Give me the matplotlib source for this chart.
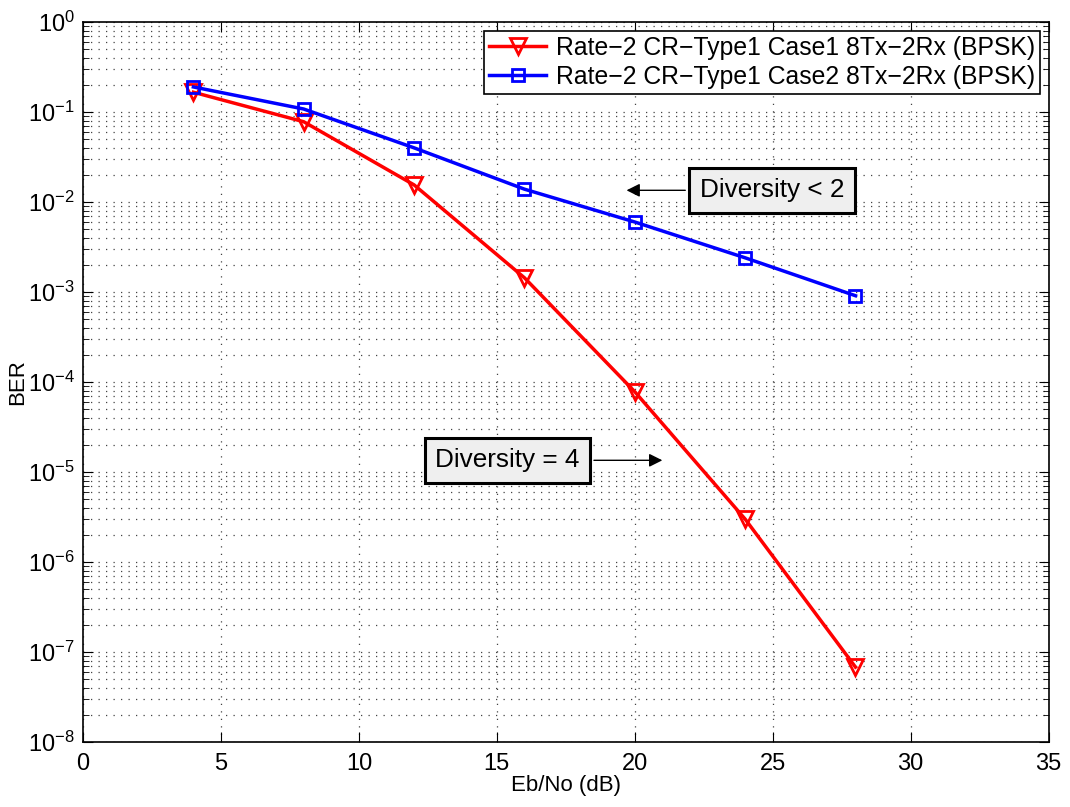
import matplotlib
matplotlib.use('Agg')
import matplotlib.pyplot as plt
from matplotlib.ticker import LogLocator, NullFormatter

plt.rcParams['font.family'] = ['Liberation Sans', 'DejaVu Sans']
plt.rcParams['mathtext.fontset'] = 'custom'
plt.rcParams['mathtext.rm'] = 'Liberation Sans'
plt.rcParams['mathtext.it'] = 'Liberation Sans'

# data
snr = [4, 8, 12, 16, 20, 24, 28]
ber_case1 = [0.166, 0.078, 0.0155, 0.00144, 7.8e-5, 3.0e-6, 6.8e-8]
ber_case2 = [0.19, 0.108, 0.040, 0.0139, 0.0060, 0.0024, 0.00091]
label_case1 = 'Rate\u22122 CR\u2212Type1 Case1 8Tx\u22122Rx (BPSK)'
label_case2 = 'Rate\u22122 CR\u2212Type1 Case2 8Tx\u22122Rx (BPSK)'

fig = plt.figure(figsize=(10.7, 8.07), dpi=100)
ax = fig.add_axes([0.0776, 0.0805, 0.9024, 0.8922])

ax.semilogy(snr, ber_case1, color='red', lw=2.5, marker='v', ms=11,
            mfc='none', mew=2, label=label_case1)
ax.semilogy(snr, ber_case2, color='blue', lw=2.5, marker='s', ms=8,
            mfc='none', mew=2, label=label_case2)

ax.set_xlim(0, 35)
ax.set_ylim(1e-8, 1)
ax.set_xticks(range(0, 36, 5))
ax.yaxis.set_major_locator(LogLocator(base=10, numticks=12))
ax.yaxis.set_minor_locator(LogLocator(base=10, subs=range(2, 10), numticks=12))
ax.yaxis.set_minor_formatter(NullFormatter())

dots = (0, (1, 5))
ax.grid(True, which='major', ls=dots, color='#444444', lw=0.9)
ax.grid(True, which='minor', axis='y', ls=dots, color='#444444', lw=0.9)
ax.tick_params(which='both', direction='in', top=True, right=True, labelsize=17)
ax.tick_params(which='major', length=7)
ax.tick_params(which='minor', length=4)
ax.tick_params(axis='x', pad=8)
ax.tick_params(axis='y', pad=6)
for s in ax.spines.values():
    s.set_linewidth(1.2)

ax.set_xlabel('Eb/No (dB)', fontsize=16, labelpad=0)
ax.set_ylabel('BER', fontsize=16, labelpad=0)

leg = ax.legend(loc='upper right', fontsize=17.8, fancybox=False, framealpha=1,
                edgecolor='black', handlelength=2.3, handletextpad=0.4,
                borderpad=0.2, labelspacing=0.2, borderaxespad=0.35)
leg.get_frame().set_linewidth(1.2)

box = dict(boxstyle='square,pad=0.4', fc='#efefef', ec='black', lw=2.2)
ax.annotate('Diversity < 2', xy=(19.6, 1.35e-2), xytext=(22.35, 1.35e-2),
            fontsize=18.8, va='center', ha='left', bbox=box,
            arrowprops=dict(arrowstyle='-|>', color='black', lw=1, mutation_scale=20))
ax.annotate('Diversity = 4', xy=(21.1, 1.35e-5), xytext=(18.0, 1.35e-5),
            fontsize=18.8, va='center', ha='right', bbox=box,
            arrowprops=dict(arrowstyle='-|>', color='black', lw=1, mutation_scale=20))

fig.savefig('out.png', dpi=100)
